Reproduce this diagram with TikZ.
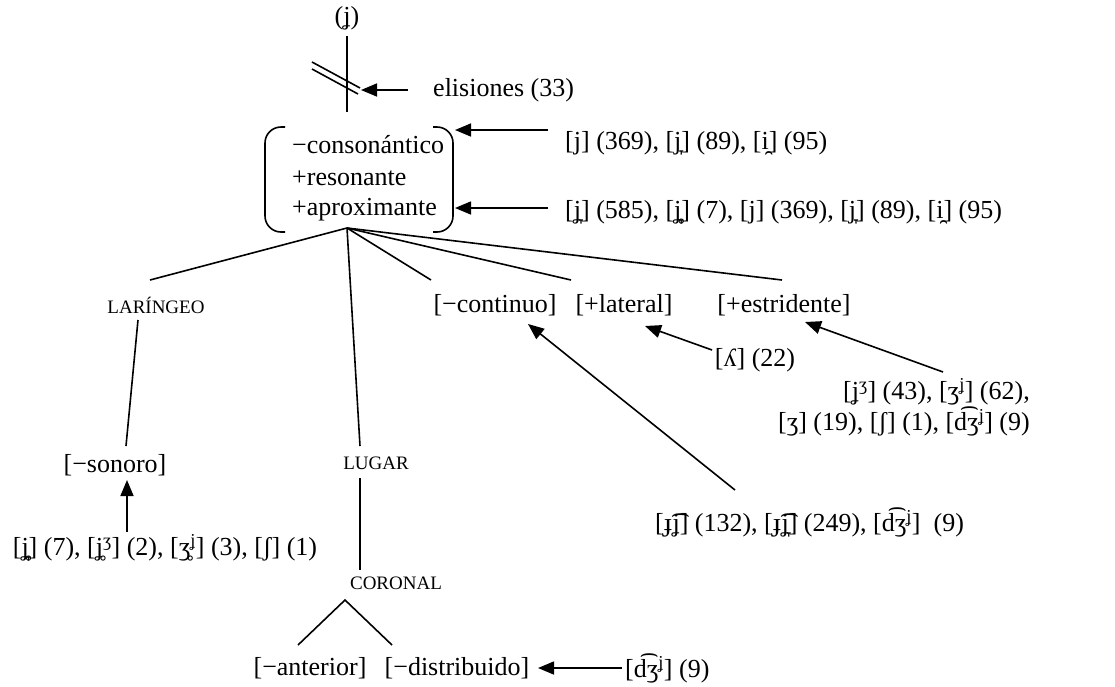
\documentclass[tikz,border=0pt]{standalone}
\usepackage{fontspec}
\setmainfont{Liberation Serif}
\usetikzlibrary{arrows.meta}
\begin{document}
\begin{tikzpicture}[x=1pt,y=-1pt,
  every node/.style={inner sep=0pt, font=\fontsize{26}{31}\selectfont},
  sc/.style={font=\fontsize{19}{22}\selectfont},
  ln/.style={line width=1.6pt},
  arr/.style={line width=1.6pt, -{Triangle[length=16pt,width=13pt]}}]
\useasboundingbox (0,0) rectangle (1115,686);

% top
\node (top) at (347,18) {(ʝ)};
\coordinate (vt) at (347,36);
\coordinate (vb) at (347,112);
\draw[ln] (vt) -- (vb);
\coordinate (s1a) at (312,62); \coordinate (s1b) at (360,88);
\coordinate (s2a) at (312,69); \coordinate (s2b) at (358,94);
\draw[ln] (s1a) -- (s1b);
\draw[ln] (s2a) -- (s2b);
\node[anchor=west] (elis) at (433,90) {elisiones (33)};
\coordinate (ea) at (408,90);
\coordinate (eb) at (361,90);
\draw[arr] (ea) -- (eb);

% feature bundle
\node[anchor=west] (f1) at (292,145) {−consonántico};
\node[anchor=west] (f2) at (292,178) {+resonante};
\node[anchor=west] (f3) at (292,210) {+aproximante};
\draw[ln,rounded corners=16pt] (285,127) -- (265,127) -- (265,232) -- (285,232);
\draw[ln,rounded corners=16pt] (433,127) -- (453,127) -- (453,232) -- (433,232);

\node[anchor=west] (t1) at (565,143) {[j] (369), [j̞] (89), [i̯] (95)};
\node[anchor=west] (t2) at (565,212) {[ʝ̞] (585), [ʝ̞̥] (7), [j] (369), [j̞] (89), [i̯] (95)};
\coordinate (a1s) at (548,130); \coordinate (a1e) at (455,130);
\coordinate (a2s) at (548,208); \coordinate (a2e) at (455,208);
\draw[arr] (a1s) -- (a1e);
\draw[arr] (a2s) -- (a2e);

% fan
\coordinate (b0) at (347,228);
\node[sc] (lar) at (156,305) {LARÍNGEO};
\node (cont) at (495,305) {[−continuo]};
\node (lat) at (624,305) {[+lateral]};
\node (est) at (784,305) {[+estridente]};
\node[sc] (lug) at (376,463) {LUGAR};
\coordinate (e1) at (150,280);
\coordinate (e2) at (431,280);
\coordinate (e3) at (571,280);
\coordinate (e4) at (782,280);
\coordinate (e5) at (360,446);
\draw[ln] (b0) -- (e1);
\draw[ln] (b0) -- (e2);
\draw[ln] (b0) -- (e3);
\draw[ln] (b0) -- (e4);
\draw[ln] (b0) -- (e5);

% laryngeal
\node (son) at (115,465) {[−sonoro]};
\coordinate (l1) at (138,320); \coordinate (l2) at (126,446);
\draw[ln] (l1) -- (l2);
\node (sontxt) at (165,548) {[ʝ̞̥] (7), [ʝ̥\textsuperscript{ʒ}] (2), [ʒ̥\textsuperscript{ʝ}] (3), [ʃ] (1)};
\coordinate (u1) at (127,532); \coordinate (u2) at (127,480);
\draw[arr] (u1) -- (u2);

% lateral
\node (lam) at (755,360) {[ʎ] (22)};
\coordinate (la1) at (712,350); \coordinate (la2) at (645,326);
\draw[arr] (la1) -- (la2);

% estridente
\node[align=right, anchor=north east] (esttxt) at (1030,378) {[ʝ\textsuperscript{ʒ}] (43), [ʒ\textsuperscript{ʝ}] (62),\\{}[ʒ] (19), [ʃ] (1), [d͡ʒ\textsuperscript{ʝ}] (9)};
\coordinate (es1) at (943,372); \coordinate (es2) at (805,322);
\draw[arr] (es1) -- (es2);

% continuo
\node[anchor=west] (conttxt) at (655,522) {[ɟ͡ʝ] (132), [ɟ͡ʝ̞] (249), [d͡ʒ\textsuperscript{ʝ}]~ (9)};
\coordinate (c1) at (735,490); \coordinate (c2) at (528,324);
\draw[arr] (c1) -- (c2);

% place
\coordinate (p1) at (360,478); \coordinate (p2) at (360,570);
\draw[ln] (p1) -- (p2);
\node[sc] (cor) at (396,583) {CORONAL};
\coordinate (v0) at (345,600);
\coordinate (v1) at (298,645);
\coordinate (v2) at (392,645);
\draw[ln] (v1) -- (v0) -- (v2);
\node (ant) at (310,668) {[−anterior]};
\node (dis) at (457,668) {[−distribuido]};
\node[anchor=west] (dz) at (625,668) {[d͡ʒ\textsuperscript{ʝ}] (9)};
\coordinate (d1) at (622,668); \coordinate (d2) at (538,668);
\draw[arr] (d1) -- (d2);
\end{tikzpicture}
\end{document}
